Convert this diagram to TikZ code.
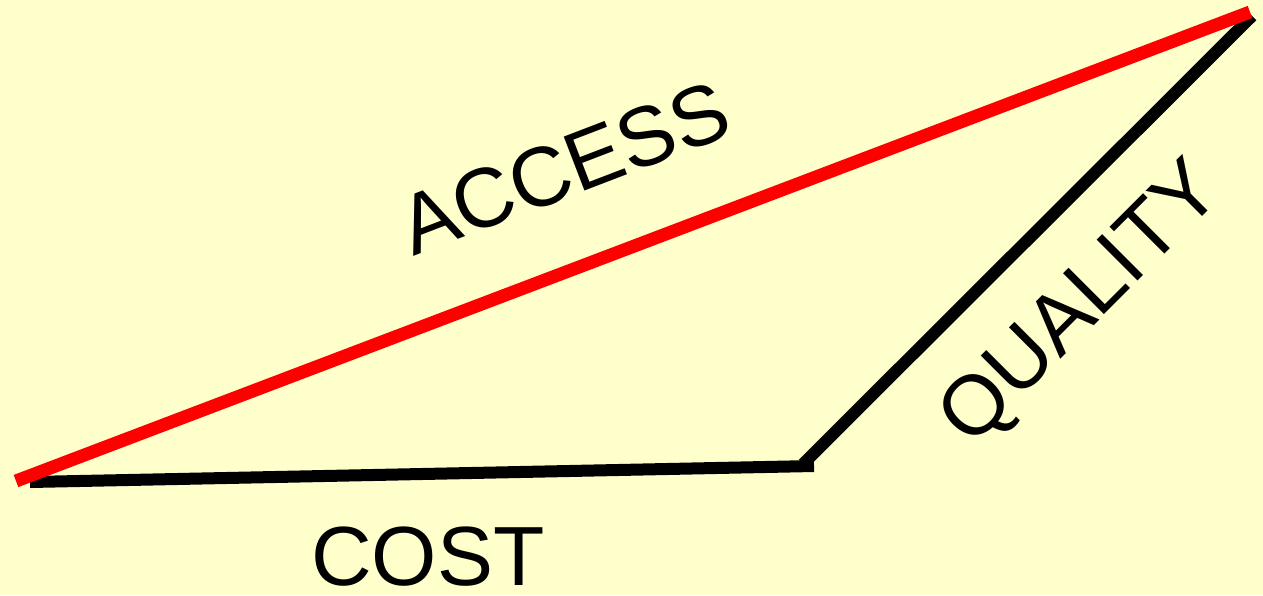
\documentclass[tikz,border=0pt]{standalone}
\usepackage{fontspec}
\setmainfont{Liberation Sans}
\definecolor{bg}{HTML}{FFFFCC}
\begin{document}
\begin{tikzpicture}[x=1pt,y=-1pt,
  side/.style={line width=12pt},
  lbl/.style={font=\fontsize{84}{84}\selectfont, inner sep=0pt}]
\fill[bg] (0,0) rectangle (1263,595);
\useasboundingbox (0,0) rectangle (1263,595);
\coordinate (a) at (16,481);
\coordinate (b) at (1250,12);
\coordinate (c0) at (30,482);
\coordinate (c1) at (814,466);
\coordinate (q0) at (803,464);
\coordinate (q1) at (1252,16);
\draw[side] (c0) -- (c1);
\draw[side] (q0) -- (q1);
\draw[side, red, line width=13pt] (a) -- (b);
\node[lbl, rotate=21] (access) at (564,168) {ACCESS};
\node[lbl, rotate=45] (quality) at (1083,306) {QUALITY};
\node[lbl] (cost) at (428,557) {COST};
\end{tikzpicture}
\end{document}
